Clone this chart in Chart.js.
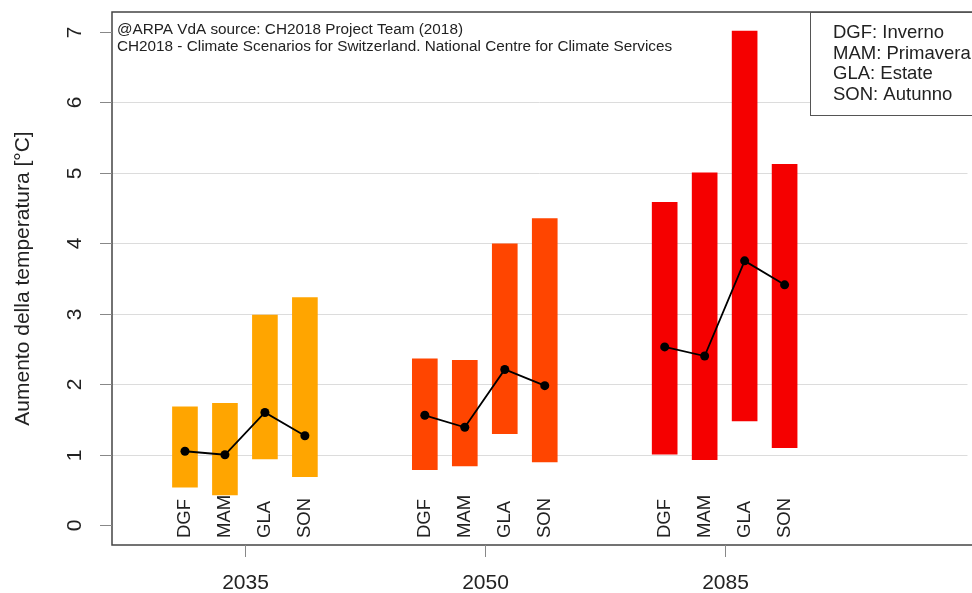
<!doctype html>
<html lang="it">

<head>
    <meta charset="utf-8">
    <title>Aumento della temperatura</title>
    <script src="https://cdn.jsdelivr.net/npm/chart.js"></script>
    <style>
        body { margin: 0; background: #fff; }
        #chart { display: block; }
    </style>
</head>

<body>
    <canvas id="chart" width="972" height="593"></canvas>
    <script>
        // dati
        const periods = ["2035", "2050", "2085"];
        const seasons = ["DGF", "MAM", "GLA", "SON"];
        const lowValues = [
            [0.54, 0.43, 0.94, 0.69],
            [0.79, 0.84, 1.30, 0.90],
            [1.01, 0.93, 1.48, 1.10]
        ];
        const highValues = [
            [1.68, 1.73, 2.98, 3.23],
            [2.36, 2.34, 3.99, 4.35],
            [4.58, 5.00, 7.01, 5.12]
        ];
        const medianValues = [
            [1.05, 1.00, 1.60, 1.27],
            [1.56, 1.39, 2.21, 1.98],
            [2.53, 2.40, 3.75, 3.41]
        ];
        const yTicks = [0, 1, 2, 3, 4, 5, 6, 7];
        const gridValues = [1, 2, 3, 4, 5, 6];
        const periodColors = ["#ffa500", "#ff4500", "#f50000"];
        const legendLines = ["DGF: Inverno", "MAM: Primavera", "GLA: Estate", "SON: Autunno"];
        const noteLines = [
            "@ARPA VdA source: CH2018 Project Team (2018)",
            "CH2018 - Climate Scenarios for Switzerland. National Centre for Climate Services"
        ];

        const FONT = "'Liberation Sans', Arial, sans-serif";

        // posizione di ogni barra: 4 stagioni per periodo, 2 spazi tra i gruppi
        function barPos(p, s) { return p * 6 + s + 1; }
        function groupCenter(p) { return p * 6 + 2.5; }

        const barData = [];
        const barColors = [];
        const lineSets = [];
        for (let p = 0; p < periods.length; p++) {
            const pts = [];
            for (let s = 0; s < seasons.length; s++) {
                barData.push({ x: barPos(p, s), y: [lowValues[p][s], highValues[p][s]] });
                barColors.push(periodColors[p]);
                pts.push({ x: barPos(p, s), y: medianValues[p][s] });
            }
            lineSets.push({
                type: 'line',
                data: pts,
                borderColor: '#000',
                borderWidth: 1.8,
                pointRadius: 4.5,
                pointBackgroundColor: '#000',
                pointBorderWidth: 0,
                tension: 0,
                order: 0
            });
        }

        const framePlugin = {
            id: 'frame',
            beforeDatasetsDraw(chart) {
                const ctx = chart.ctx;
                const a = chart.chartArea;
                const y = chart.scales.y;
                ctx.save();
                ctx.strokeStyle = '#dcdcdc';
                ctx.lineWidth = 1;
                for (const v of gridValues) {
                    const py = Math.round(y.getPixelForValue(v)) + 0.5;
                    ctx.beginPath();
                    ctx.moveTo(a.left, py);
                    ctx.lineTo(a.right, py);
                    ctx.stroke();
                }
                ctx.restore();
            },
            afterDraw(chart) {
                const ctx = chart.ctx;
                const a = chart.chartArea;
                const x = chart.scales.x;
                const y = chart.scales.y;
                ctx.save();

                // riquadro
                ctx.strokeStyle = '#444';
                ctx.lineWidth = 1.5;
                ctx.strokeRect(a.left, a.top, a.right - a.left + 8, a.bottom - a.top);

                // asse y
                ctx.strokeStyle = '#888';
                ctx.lineWidth = 1;
                ctx.fillStyle = '#222';
                ctx.font = "21px " + FONT;
                ctx.textAlign = 'center';
                ctx.textBaseline = 'middle';
                for (const v of yTicks) {
                    const py = Math.round(y.getPixelForValue(v)) + 0.5;
                    ctx.beginPath();
                    ctx.moveTo(a.left - 12, py);
                    ctx.lineTo(a.left, py);
                    ctx.stroke();
                    ctx.save();
                    ctx.translate(75, py);
                    ctx.rotate(-Math.PI / 2);
                    ctx.fillText(String(v), 0, 0);
                    ctx.restore();
                }
                ctx.save();
                ctx.translate(23, (a.top + a.bottom) / 2);
                ctx.rotate(-Math.PI / 2);
                ctx.fillText("Aumento della temperatura [°C]", 0, 0);
                ctx.restore();

                // asse x
                for (let p = 0; p < periods.length; p++) {
                    const px = Math.round(x.getPixelForValue(groupCenter(p))) + 0.5;
                    ctx.beginPath();
                    ctx.moveTo(px, a.bottom);
                    ctx.lineTo(px, a.bottom + 12);
                    ctx.stroke();
                    ctx.fillText(periods[p], px, 583);
                }

                // etichette stagioni
                ctx.font = "18.5px " + FONT;
                ctx.textAlign = 'left';
                for (let p = 0; p < periods.length; p++) {
                    for (let s = 0; s < seasons.length; s++) {
                        const px = x.getPixelForValue(barPos(p, s));
                        ctx.save();
                        ctx.translate(px, a.bottom - 7);
                        ctx.rotate(-Math.PI / 2);
                        ctx.fillText(seasons[s], 0, 0);
                        ctx.restore();
                    }
                }

                // note in alto
                ctx.font = "15.3px " + FONT;
                ctx.textBaseline = 'alphabetic';
                ctx.fillText(noteLines[0], a.left + 5, 34);
                ctx.fillText(noteLines[1], a.left + 5, 51);

                // legenda
                ctx.fillStyle = '#fff';
                ctx.fillRect(810, a.top, 200, 103);
                ctx.strokeStyle = '#555';
                ctx.lineWidth = 1;
                ctx.strokeRect(810.5, a.top + 0.5, 200, 103);
                ctx.fillStyle = '#222';
                ctx.font = "18.5px " + FONT;
                ctx.textBaseline = 'middle';
                legendLines.forEach((t, i) => {
                    ctx.fillText(t, 833, 33 + i * 20.7);
                });

                ctx.restore();
            }
        };

        new Chart(document.getElementById('chart'), {
            data: {
                datasets: lineSets.concat([{
                    type: 'bar',
                    data: barData,
                    backgroundColor: barColors,
                    borderWidth: 0,
                    barThickness: 25,
                    order: 1
                }])
            },
            options: {
                responsive: false,
                animation: false,
                layout: { padding: { left: 112, top: 12, right: 0, bottom: 48 } },
                plugins: { legend: { display: false }, tooltip: { enabled: false } },
                scales: {
                    x: { type: 'linear', min: -0.825, max: 20.575, offset: false, display: false },
                    y: { min: -0.28, max: 7.28, display: false }
                }
            },
            plugins: [framePlugin]
        });
    </script>
</body>

</html>
